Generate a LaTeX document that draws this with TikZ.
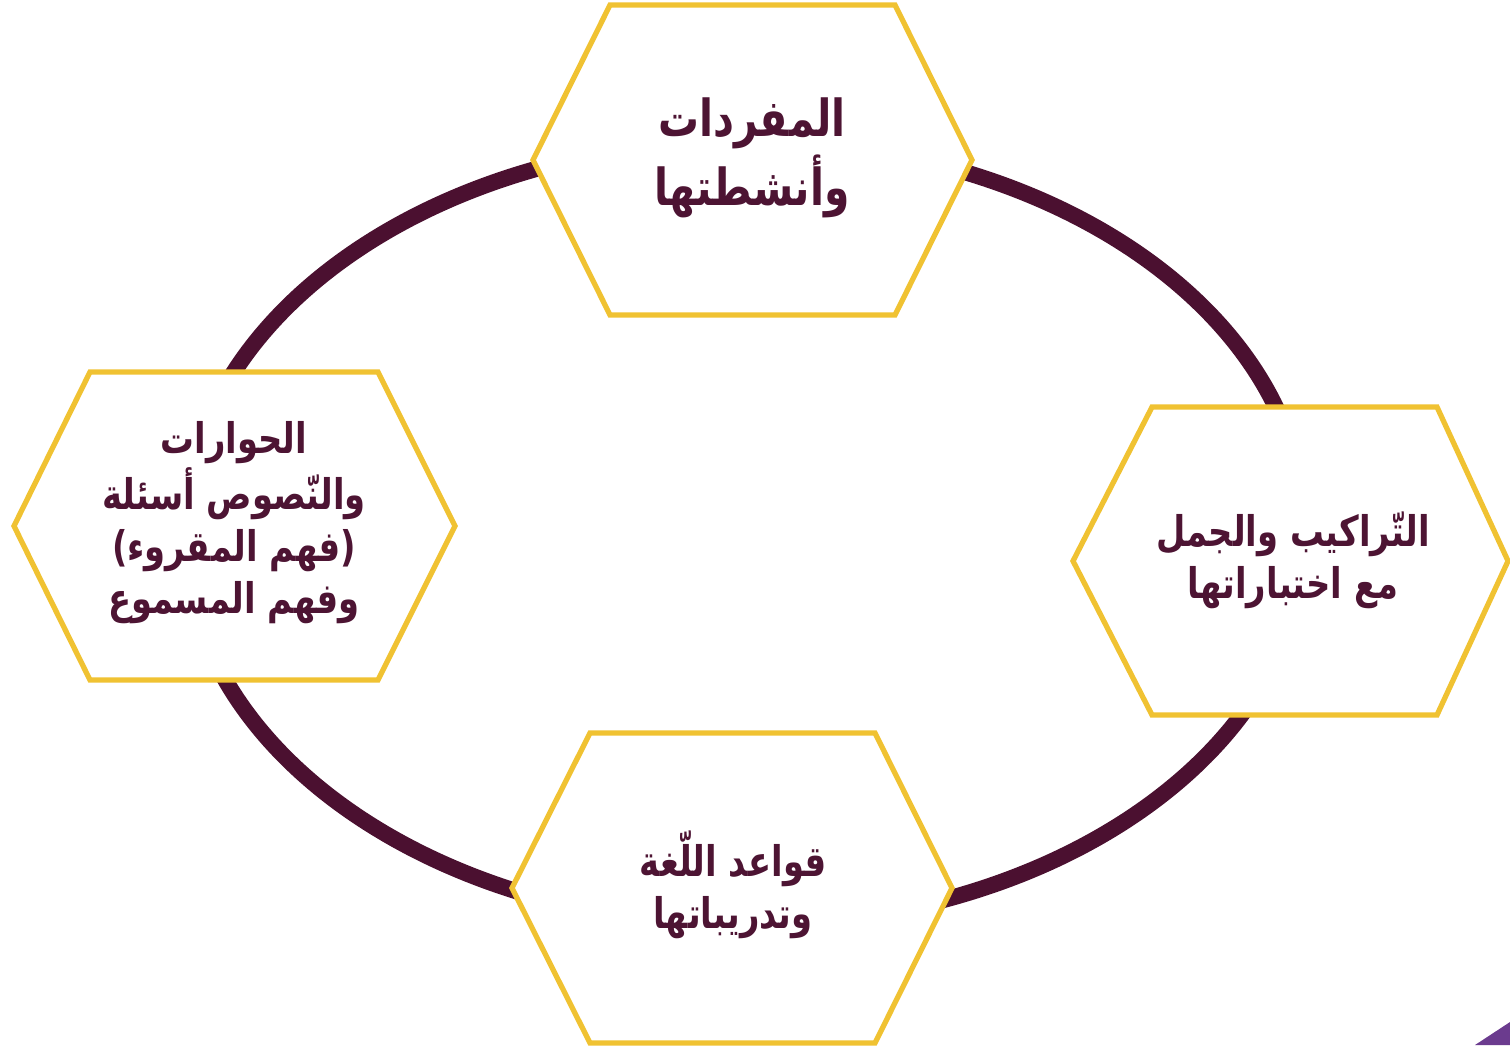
\documentclass[tikz,border=0pt]{standalone}
\usepackage{fontspec}
\newfontfamily\arabicfont[Script=Arabic,FakeStretch=0.8]{DejaVu Sans}
\TeXXeTstate=1
\definecolor{ringred}{HTML}{4B1030}
\definecolor{hexyellow}{HTML}{F0C232}
\definecolor{txtred}{HTML}{4D1433}
\definecolor{cornerpurple}{HTML}{6B3B8E}

\begin{document}
\begin{tikzpicture}[x=0.01cm,y=-0.01cm,
		hexa/.style={draw=hexyellow,line width=1.5pt,fill=white,line join=miter},
		topic/.style={text=txtred,align=center,font=\arabicfont\bfseries\fontsize{12}{14.8}\selectfont},
		bigtopic/.style={topic,font=\arabicfont\bfseries\fontsize{14.5}{19.5}\selectfont}]
		\useasboundingbox (0,0) rectangle (1510,1045);
		
		% ring behind the hexagons
		\draw[ringred,line width=4.6pt] (745,533) ellipse (5.6cm and 3.92cm);
		
		\draw[hexa] (533,160) -- ++(77,-155) -- ++(285,0) -- ++(77,155) -- ++(-77,155) -- ++(-285,0) -- cycle;
		\node[bigtopic] (vocab) at (752,158) {\beginR المفردات\endR\\\beginR وأنشطتها\endR};
		
		\draw[hexa] (1073,561) -- ++(79,-154) -- ++(285,0) -- ++(71,154) -- ++(-71,154) -- ++(-285,0) -- cycle;
		\node[topic] (syntax) at (1293,560) {\beginR التّراكيب والجمل\endR\\\beginR مع اختباراتها\endR};
		
		\draw[hexa] (512,888) -- ++(78,-155) -- ++(285,0) -- ++(77,155) -- ++(-77,155) -- ++(-285,0) -- cycle;
		\node[topic] (grammar) at (733,885) {\beginR قواعد اللّغة\endR\\\beginR وتدريباتها\endR};
		
		\draw[hexa] (14,526) -- ++(76,-154) -- ++(288,0) -- ++(77,154) -- ++(-77,154) -- ++(-288,0) -- cycle;
		\node[topic] (dialog) at (234,523) {\beginR الحوارات\endR\\\beginR والنّصوص أسئلة\endR\\\beginR (فهم المقروء)\endR\\\beginR وفهم المسموع\endR};
		
		% corner mark
		\fill[cornerpurple] (1475,1045) -- (1510,1022) -- (1510,1045) -- cycle;
\end{tikzpicture}
\end{document}
